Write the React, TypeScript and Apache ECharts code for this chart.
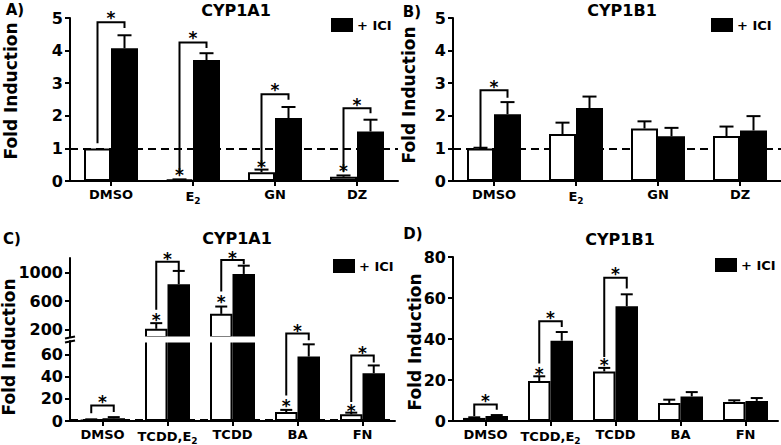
import React, { useEffect, useRef } from 'react';
import * as echarts from 'echarts';

const FONT = 'DejaVu Sans';
const W = 781;
const H = 445;

// ---------- data ----------
const categoriesTop = ['DMSO', 'E2', 'GN', 'DZ'];
const categoriesBottom = ['DMSO', 'TCDD,E2', 'TCDD', 'BA', 'FN'];
const vehicleName = 'Vehicle';
const iciName = '+ ICI';

// Panel A – CYP1A1
const aVehicle = [1.0, 0.04, 0.27, 0.13];
const aVehicleErr = [0, 0.01, 0.08, 0.04];
const aIci = [4.07, 3.71, 1.93, 1.52];
const aIciErr = [0.4, 0.21, 0.34, 0.36];
// [category, left leg start, bracket top, right leg end, star]
const aBrackets = [
  [0, 1.16, 4.87, 4.69, 5.12],
  [1, 0.24, 4.25, 4.08, 4.5],
  [2, 0.44, 2.66, 2.49, 2.9],
  [3, 0.29, 2.23, 2.08, 2.45],
];
const aVehicleStars = [[1, 0.32], [2, 0.56], [3, 0.42]];

// Panel B – CYP1B1
const bVehicle = [1.0, 1.44, 1.61, 1.38];
const bVehicleErr = [0.02, 0.35, 0.22, 0.29];
const bIci = [2.05, 2.24, 1.37, 1.55];
const bIciErr = [0.37, 0.35, 0.26, 0.44];
const bBrackets = [[0, 1.02, 2.78, 2.55, 3.0]];
const bVehicleStars: number[][] = [];

// Panel C – CYP1A1 (broken axis)
const cVehicle = [1, 214, 422, 8, 6];
const cVehicleErr = [0.5, 79, 102, 2, 1.5];
const cIci = [2.5, 835, 978, 58, 43];
const cIciErr = [1, 185, 115, 11, 7];
const cLowerMax = 72;
const cUpperMin = 100;
const cUpperMax = 1200;
const cLowerTicks = [0, 20, 40, 60];
const cUpperTicks = [200, 600, 1000];
const cBracketsUpper = [
  [1, 478, 1148, 1030, 1242],
  [2, 732, 1172, 1112, 1262],
];
const cBracketsLower = [
  [0, 7, 14, 8, 21],
  [3, 23, 78.7, 72.7, 84.7],
  [4, 17, 59, 52.6, 65.2],
];
const cVehicleStarsUpper = [[1, 394], [2, 649]];
const cVehicleStarsLower = [[3, 17], [4, 12.6]];

// Panel D – CYP1B1
const dVehicle = [1.5, 19.5, 24.2, 8.8, 9.3];
const dVehicleErr = [0.3, 2.3, 1.7, 1.6, 0.8];
const dIci = [2.4, 39.2, 56, 12, 9.8];
const dIciErr = [0.5, 4.2, 5.8, 2.1, 1.4];
const dBrackets = [
  [0, 2.4, 8, 5.5, 11.7],
  [1, 28, 48.6, 45.9, 52.4],
  [2, 31.2, 69.9, 64.6, 73.5],
];
const dVehicleStars = [[1, 24.7], [2, 29.1]];

// ---------- styling ----------
const BW_TOP = 27;
const BW_BOT = 22.5;
const STAR_FONT = `bold 17px ${FONT}`;
const STAR_OFF = 4;

const axisLineStyle = { show: true, lineStyle: { color: '#000', width: 2 } };
const axisTickStyle = { show: true, length: 5, lineStyle: { color: '#000', width: 2 } };

function catLabel(v: string) {
  if (v.endsWith('E2')) return `{n|${v.slice(0, -1)}}{s|2}`;
  return `{n|${v}}`;
}

const richLabel = {
  n: { fontFamily: FONT, fontWeight: 'bold', fontSize: 13, color: '#000' },
  s: { fontFamily: FONT, fontWeight: 'bold', fontSize: 9, color: '#000', padding: [8, 0, 0, 0] },
};

const valueLabel = {
  margin: 7,
  color: '#000',
  fontFamily: FONT,
  fontWeight: 'bold',
  fontSize: 16,
  formatter: (v: number) => String(v),
};

function xAxis(gridIndex: number, data: string[], show = true) {
  return {
    type: 'category',
    gridIndex,
    data,
    show,
    axisLine: axisLineStyle,
    axisTick: { ...axisTickStyle, alignWithLabel: true },
    axisLabel: {
      margin: 7,
      formatter: catLabel,
      rich: richLabel,
      interval: 0,
    },
    splitLine: { show: false },
  };
}

function yAxis(gridIndex: number, extra: any) {
  return {
    type: 'value',
    gridIndex,
    axisLine: axisLineStyle,
    axisTick: axisTickStyle,
    splitLine: { show: false },
    axisLabel: valueLabel,
    ...extra,
  };
}

function barPair(xi: number, yi: number, veh: any[], ici: any[], bw: number, dashed: boolean) {
  const vehicle: any = {
    type: 'bar',
    name: vehicleName,
    xAxisIndex: xi,
    yAxisIndex: yi,
    data: veh,
    barWidth: bw,
    barGap: '0%',
    z: 2,
    itemStyle: { color: '#fff', borderColor: '#000', borderWidth: 2 },
    silent: true,
  };
  if (dashed) {
    vehicle.markLine = {
      silent: true,
      symbol: 'none',
      z: 1,
      label: { show: false },
      lineStyle: { type: [8, 5], color: '#000', width: 2 },
      data: [{ yAxis: 1 }],
    };
  }
  const treated = {
    type: 'bar',
    name: iciName,
    xAxisIndex: xi,
    yAxisIndex: yi,
    data: ici,
    barWidth: bw,
    barGap: '0%',
    z: 2,
    itemStyle: { color: '#000', borderColor: '#000', borderWidth: 2 },
    silent: true,
  };
  return [vehicle, treated];
}

function errSeries(xi: number, yi: number, vals: number[], errs: number[], side: number, bw: number, cap: number, keep?: (v: number) => boolean) {
  const data = vals
    .map((v, i) => [i, v, errs[i]])
    .filter((d) => (keep ? keep(d[1]) : true));
  return {
    type: 'custom',
    xAxisIndex: xi,
    yAxisIndex: yi,
    z: 3,
    silent: true,
    data,
    renderItem: (_p: any, api: any) => {
      const cat = api.value(0);
      const v = api.value(1);
      const e = api.value(2);
      if (!(e > 0)) return null;
      const b = api.coord([cat, v]);
      const t = api.coord([cat, v + e]);
      const x = b[0] + (side * bw) / 2;
      const st = { stroke: '#000', lineWidth: 2 };
      return {
        type: 'group',
        children: [
          { type: 'line', shape: { x1: x, y1: b[1], x2: x, y2: t[1] }, style: st },
          { type: 'line', shape: { x1: x - cap, y1: t[1], x2: x + cap, y2: t[1] }, style: st },
        ],
      };
    },
  };
}

function bracketSeries(xi: number, yi: number, data: number[][], bw: number) {
  return {
    type: 'custom',
    xAxisIndex: xi,
    yAxisIndex: yi,
    z: 4,
    silent: true,
    clip: false,
    data,
    encode: { x: 0, y: 2 },
    renderItem: (_p: any, api: any) => {
      const cat = api.value(0);
      const l = api.coord([cat, api.value(1)]);
      const t = api.coord([cat, api.value(2)]);
      const r = api.coord([cat, api.value(3)]);
      const s = api.coord([cat, api.value(4)]);
      const xl = l[0] - bw / 2;
      const xr = l[0] + bw / 2;
      return {
        type: 'group',
        children: [
          {
            type: 'polyline',
            shape: { points: [[xl, l[1]], [xl, t[1]], [xr, t[1]], [xr, r[1]]] },
            style: { stroke: '#000', lineWidth: 2, fill: null },
          },
          {
            type: 'text',
            style: { text: '*', x: l[0], y: s[1] + STAR_OFF, align: 'center', verticalAlign: 'middle', font: STAR_FONT, fill: '#000' },
          },
        ],
      };
    },
  };
}

function starSeries(xi: number, yi: number, data: number[][], bw: number) {
  return {
    type: 'custom',
    xAxisIndex: xi,
    yAxisIndex: yi,
    z: 4,
    silent: true,
    clip: false,
    data,
    renderItem: (_p: any, api: any) => {
      const c = api.coord([api.value(0), api.value(1)]);
      return {
        type: 'text',
        style: { text: '*', x: c[0] - bw / 2, y: c[1] + STAR_OFF, align: 'center', verticalAlign: 'middle', font: STAR_FONT, fill: '#000' },
      };
    },
  };
}

function breakCoverSeries(xi: number, yi: number, bw: number) {
  const data = cVehicle
    .map((v, i) => [i, Math.max(v, cIci[i])])
    .filter((d) => d[1] > cLowerMax)
    .map((d) => [d[0], cLowerMax]);
  return {
    type: 'custom',
    xAxisIndex: xi,
    yAxisIndex: yi,
    z: 10,
    silent: true,
    clip: false,
    data,
    renderItem: (_p: any, api: any) => {
      const c = api.coord([api.value(0), api.value(1)]);
      return {
        type: 'rect',
        shape: { x: c[0] - bw - 2, y: c[1] - 4.5, width: 2 * bw + 4, height: 6 },
        style: { fill: '#fff' },
      };
    },
  };
}

function legend(left: number, top: number) {
  return {
    left,
    top,
    padding: 0,
    data: [iciName],
    icon: 'rect',
    itemWidth: 20,
    itemHeight: 12,
    selectedMode: false,
    textStyle: { fontFamily: FONT, fontWeight: 'bold', fontSize: 13, color: '#000' },
  };
}

function text(x: number, y: number, t: string, size: number, rotate = false) {
  return {
    type: 'text',
    x,
    y,
    rotation: rotate ? Math.PI / 2 : 0,
    style: { text: t, align: 'center', verticalAlign: 'middle', font: `bold ${size}px ${FONT}`, fill: '#000' },
  };
}

function buildOption() {
  const inUpper = (v: number) => v > cLowerMax;
  const inLower = (v: number) => v <= cLowerMax;
  return {
    animation: false,
    backgroundColor: '#fff',
    grid: [
      { left: 70, top: 18, width: 328, height: 163 },
      { left: 453, top: 18, width: 328, height: 163 },
      { left: 70, top: 258, width: 325, height: 79 },
      { left: 70, top: 341, width: 325, height: 80 },
      { left: 453, top: 257, width: 325, height: 164 },
    ],
    xAxis: [
      xAxis(0, categoriesTop),
      xAxis(1, categoriesTop),
      xAxis(2, categoriesBottom, false),
      xAxis(3, categoriesBottom),
      xAxis(4, categoriesBottom),
    ],
    yAxis: [
      yAxis(0, { min: 0, max: 5, interval: 1 }),
      yAxis(1, { min: 0, max: 5, interval: 1 }),
      yAxis(2, {
        min: cUpperMin,
        max: cUpperMax,
        axisTick: { ...axisTickStyle, customValues: cUpperTicks },
        axisLabel: { ...valueLabel, customValues: cUpperTicks },
      }),
      yAxis(3, {
        min: 0,
        max: cLowerMax,
        axisTick: { ...axisTickStyle, customValues: cLowerTicks },
        axisLabel: { ...valueLabel, customValues: cLowerTicks },
      }),
      yAxis(4, { min: 0, max: 80, interval: 20 }),
    ],
    legend: [legend(331, 18), legend(711, 18), legend(333, 259), legend(715, 258)],
    graphic: [
      text(15, 10, 'A)', 15),
      text(412, 12, 'B)', 15),
      text(12, 239, 'C)', 15),
      text(413, 234, 'D)', 15),
      text(236, 10, 'CYP1A1', 16),
      text(622, 10, 'CYP1B1', 16),
      text(237, 238, 'CYP1A1', 16),
      text(620, 239, 'CYP1B1', 16),
      text(11, 91, 'Fold Induction', 17, true),
      text(409, 95, 'Fold Induction', 17, true),
      text(9, 347, 'Fold Induction', 17, true),
      text(415, 342, 'Fold Induction', 17, true),
      { type: 'line', z: 20, shape: { x1: 65, y1: 338.5, x2: 75, y2: 336.5 }, style: { stroke: '#000', lineWidth: 2 } },
      { type: 'line', z: 20, shape: { x1: 65, y1: 342.5, x2: 75, y2: 340.5 }, style: { stroke: '#000', lineWidth: 2 } },
    ],
    series: [
      // A
      ...barPair(0, 0, aVehicle, aIci, BW_TOP, true),
      errSeries(0, 0, aVehicle, aVehicleErr, -1, BW_TOP, 7),
      errSeries(0, 0, aIci, aIciErr, 1, BW_TOP, 7),
      bracketSeries(0, 0, aBrackets, BW_TOP),
      starSeries(0, 0, aVehicleStars, BW_TOP),
      // B
      ...barPair(1, 1, bVehicle, bIci, BW_TOP, true),
      errSeries(1, 1, bVehicle, bVehicleErr, -1, BW_TOP, 7),
      errSeries(1, 1, bIci, bIciErr, 1, BW_TOP, 7),
      bracketSeries(1, 1, bBrackets, BW_TOP),
      starSeries(1, 1, bVehicleStars, BW_TOP),
      // C upper
      ...barPair(
        2,
        2,
        cVehicle.map((v) => (v > cUpperMin ? v : '-')),
        cIci.map((v) => (v > cUpperMin ? v : '-')),
        BW_BOT,
        false
      ),
      errSeries(2, 2, cVehicle, cVehicleErr, -1, BW_BOT, 6, inUpper),
      errSeries(2, 2, cIci, cIciErr, 1, BW_BOT, 6, inUpper),
      bracketSeries(2, 2, cBracketsUpper, BW_BOT),
      starSeries(2, 2, cVehicleStarsUpper, BW_BOT),
      // C lower
      ...barPair(3, 3, cVehicle, cIci, BW_BOT, true),
      errSeries(3, 3, cVehicle, cVehicleErr, -1, BW_BOT, 6, inLower),
      errSeries(3, 3, cIci, cIciErr, 1, BW_BOT, 6, inLower),
      bracketSeries(3, 3, cBracketsLower, BW_BOT),
      starSeries(3, 3, cVehicleStarsLower, BW_BOT),
      breakCoverSeries(3, 3, BW_BOT),
      // D
      ...barPair(4, 4, dVehicle, dIci, BW_BOT, false),
      errSeries(4, 4, dVehicle, dVehicleErr, -1, BW_BOT, 6),
      errSeries(4, 4, dIci, dIciErr, 1, BW_BOT, 6),
      bracketSeries(4, 4, dBrackets, BW_BOT),
      starSeries(4, 4, dVehicleStars, BW_BOT),
    ],
  };
}

export default function App() {
  const ref = useRef<HTMLDivElement>(null);
  useEffect(() => {
    document.body.style.margin = '0';
    const chart = echarts.init(ref.current as HTMLDivElement, null, { renderer: 'svg' });
    chart.setOption(buildOption() as any);
    return () => chart.dispose();
  }, []);
  return <div ref={ref} style={{ width: W, height: H }} />;
}
